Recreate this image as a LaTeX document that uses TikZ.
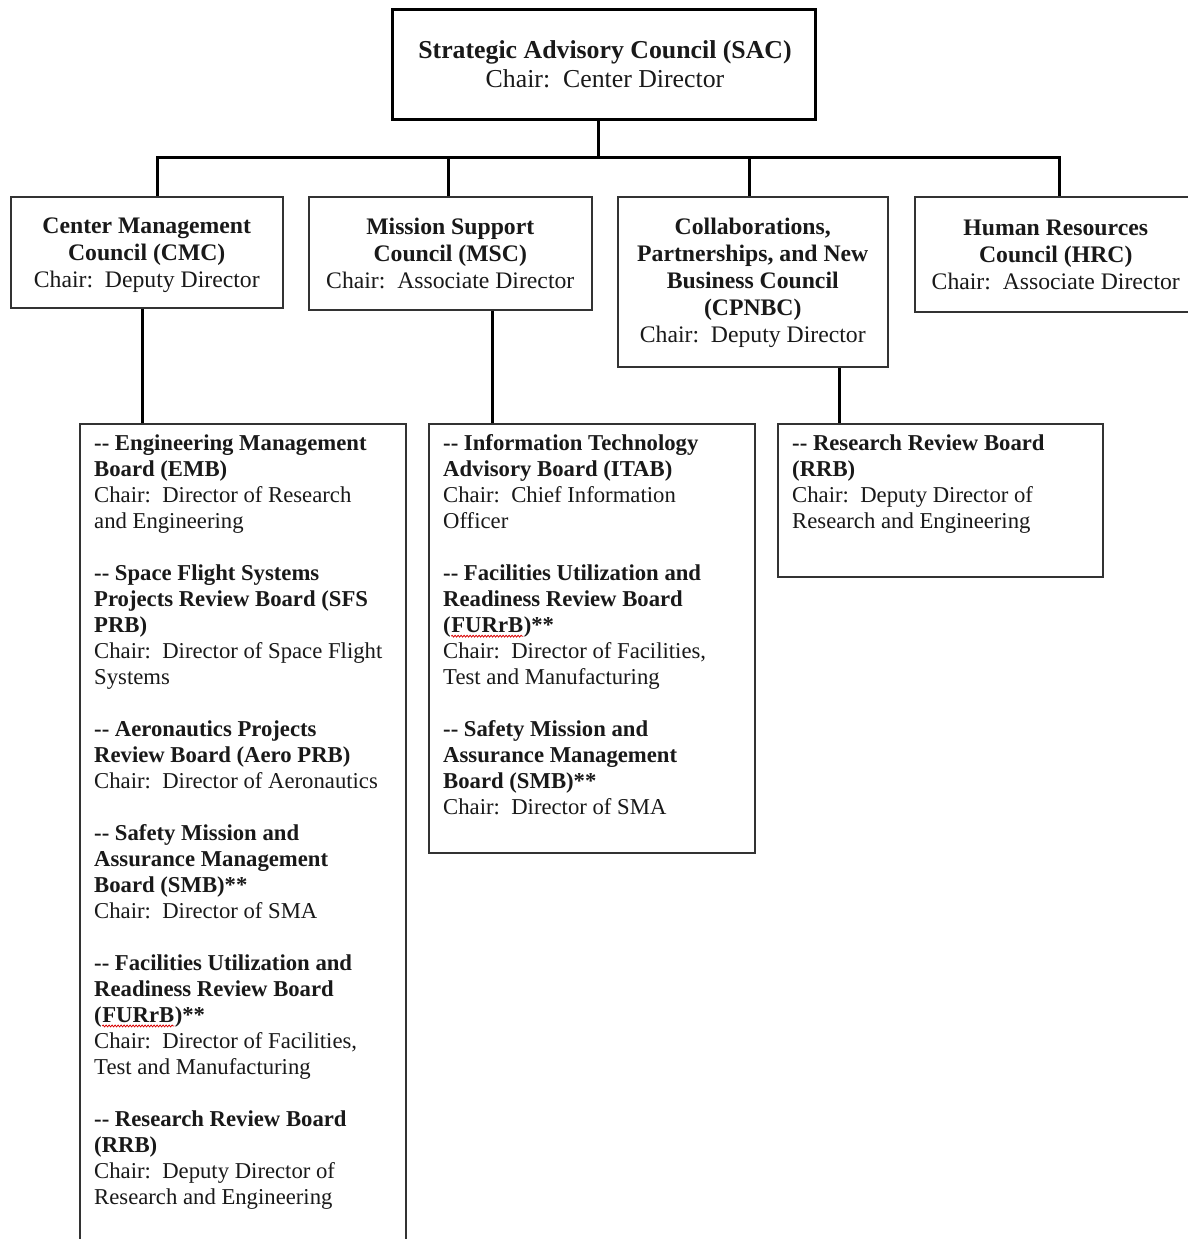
\documentclass[tikz,border=0pt]{standalone}
\usepackage{fontspec}
\setmainfont{Liberation Serif}
\usetikzlibrary{decorations.pathmorphing}
\newcommand{\spl}[1]{\tikz[baseline=(w.base)]{\node[inner sep=0pt, anchor=base west] (w) at (0pt,0pt) {#1};
  \draw[red!85!black, line width=0.8pt, decorate, decoration={snake, amplitude=0.9pt, segment length=3pt}] ([yshift=-3.5pt]w.base west) -- ([yshift=-3.5pt]w.base east);}}
\newcommand{\dd}{-{}-}
\tikzset{
  box/.style={draw=black!80, line width=1.5pt, inner sep=0pt, anchor=north west},
  ctext/.style={align=center, inner sep=0pt, text=black!90, font=\fontsize{23.7}{27}\selectfont},
  conn/.style={line width=3pt, black},
  board/.style={align=left, anchor=north west, inner sep=0pt, text=black!90, font=\fontsize{22.7}{26}\selectfont},
}
\begin{document}
\begin{tikzpicture}[x=1pt,y=-1pt]
\useasboundingbox[fill=white] (0,0) rectangle (1188,1239);
% top level
\node[box, line width=3pt, draw=black, minimum width=423pt, minimum height=110pt] (sac) at (391,8) {};
\node[ctext, font=\fontsize{25.8}{29}\selectfont] (sact) at ([xshift=1pt, yshift=0pt]sac.center)
  {\textbf{Strategic Advisory Council (SAC)}\\Chair:\ \ Center Director};
% councils
\node[box, minimum width=272pt, minimum height=111pt] (cmc) at (10,196) {};
\node[ctext] (cmct) at ([yshift=-2.5pt]cmc.center)
  {\textbf{Center Management}\\\textbf{Council (CMC)}\\Chair:\ \ Deputy Director};
\node[box, minimum width=283pt, minimum height=113pt] (msc) at (308,196) {};
\node[ctext] (msct) at ([yshift=-0.5pt]msc.center)
  {\textbf{Mission Support}\\\textbf{Council (MSC)}\\Chair:\ \ Associate Director};
\node[box, minimum width=270pt, minimum height=170pt] (cpnbc) at (617,196) {};
\node[ctext] (cpnbct) at ([yshift=-1.3pt]cpnbc.center)
  {\textbf{Collaborations,}\\\textbf{Partnerships, and New}\\\textbf{Business Council}\\\textbf{(CPNBC)}\\Chair:\ \ Deputy Director};
\node[box, minimum width=282pt, minimum height=115pt] (hrc) at (914,196) {};
\node[ctext] (hrct) at ([yshift=-0.3pt]hrc.center)
  {\textbf{Human Resources}\\\textbf{Council (HRC)}\\Chair:\ \ Associate Director};
% boards
\node[box, minimum width=326pt, minimum height=840pt] (b1) at (79,423) {};
\node[box, minimum width=326pt, minimum height=429pt] (b2) at (428,423) {};
\node[box, minimum width=325pt, minimum height=153pt] (b3) at (777,423) {};
\node[board] (t1) at (94,434.5) {%
\textbf{\dd\ Engineering Management}\\
\textbf{Board (EMB)}\\
Chair:\ \ Director of Research\\
and Engineering\\[26pt]
\textbf{\dd\ Space Flight Systems}\\
\textbf{Projects Review Board (SFS}\\
\textbf{PRB)}\\
Chair:\ \ Director of Space Flight\\
Systems\\[26pt]
\textbf{\dd\ Aeronautics Projects}\\
\textbf{Review Board (Aero PRB)}\\
Chair:\ \ Director of Aeronautics\\[26pt]
\textbf{\dd\ Safety Mission and}\\
\textbf{Assurance Management}\\
\textbf{Board (SMB)**}\\
Chair:\ \ Director of SMA\\[26pt]
\textbf{\dd\ Facilities Utilization and}\\
\textbf{Readiness Review Board}\\
\textbf{(\spl{FURrB})**}\\
Chair:\ \ Director of Facilities,\\
Test and Manufacturing\\[26pt]
\textbf{\dd\ Research Review Board}\\
\textbf{(RRB)}\\
Chair:\ \ Deputy Director of\\
Research and Engineering};
\node[board] (t2) at (443,434.5) {%
\textbf{\dd\ Information Technology}\\
\textbf{Advisory Board (ITAB)}\\
Chair:\ \ Chief Information\\
Officer\\[26pt]
\textbf{\dd\ Facilities Utilization and}\\
\textbf{Readiness Review Board}\\
\textbf{(\spl{FURrB})**}\\
Chair:\ \ Director of Facilities,\\
Test and Manufacturing\\[26pt]
\textbf{\dd\ Safety Mission and}\\
\textbf{Assurance Management}\\
\textbf{Board (SMB)**}\\
Chair:\ \ Director of SMA};
\node[board] (t3) at (792,434.5) {%
\textbf{\dd\ Research Review Board}\\
\textbf{(RRB)}\\
Chair:\ \ Deputy Director of\\
Research and Engineering};
% connectors
\coordinate (busL) at (157,157);
\coordinate (busR) at (1059,157);
\coordinate (sacdrop) at (598,118);
\draw[conn] (sacdrop) -- (sacdrop |- busL);
\draw[conn, line cap=rect] (busL) -- (busR);
\draw[conn] (busL) -- (busL |- cmc.north);
\draw[conn] (448,157) coordinate (m1) -- (m1 |- msc.north);
\draw[conn] (749,157) coordinate (c1) -- (c1 |- cpnbc.north);
\draw[conn] (busR) -- (busR |- hrc.north);
\coordinate (d1) at (142,307);
\coordinate (d2) at (492,309);
\coordinate (d3) at (839,366);
\draw[conn] (d1 |- cmc.south) -- (d1 |- b1.north);
\draw[conn] (d2 |- msc.south) -- (d2 |- b2.north);
\draw[conn] (d3 |- cpnbc.south) -- (d3 |- b3.north);
\end{tikzpicture}
\end{document}
